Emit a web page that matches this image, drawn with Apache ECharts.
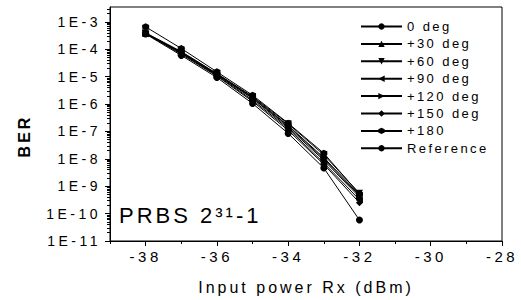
<!DOCTYPE html>
<html>
<head>
<meta charset="utf-8">
<script src="https://cdn.jsdelivr.net/npm/echarts@6/dist/echarts.min.js"></script>
<style>
html, body { margin: 0; padding: 0; background: #fff; }
#chart { width: 521px; height: 300px; }
/* the original export has widely spaced letters */
#chart svg text { letter-spacing: 3px; }
#chart svg text[style*="13px"] { letter-spacing: 2.4px; }
#chart svg text[style*="14px"], #chart svg text[style*="15px"] { letter-spacing: 3.5px; }
</style>
</head>
<body>
<div id="chart"></div>
<script>
// input power (dBm)
var power = [-38, -37, -36, -35, -34, -33, -32];

// BER per phase
var ber_0   = [3.8e-4, 7.9e-5, 1.26e-5, 1.8e-6, 1.66e-7, 1.1e-8, 5.0e-10];
var ber_30  = [3.8e-4, 7.4e-5, 1.17e-5, 1.6e-6, 1.4e-7, 8.9e-9, 4.0e-10];
var ber_60  = [4.0e-4, 8.3e-5, 1.3e-5, 1.9e-6, 1.9e-7, 1.4e-8, 5.5e-10];
var ber_90  = [3.7e-4, 7.1e-5, 1.1e-5, 1.4e-6, 1.26e-7, 7.1e-9, 3.2e-10];
var ber_120 = [3.9e-4, 7.6e-5, 1.2e-5, 1.66e-6, 1.58e-7, 1.0e-8, 4.5e-10];
var ber_150 = [3.8e-4, 6.6e-5, 1.05e-5, 1.26e-6, 1.1e-7, 6.3e-9, 2.5e-10];
var ber_180 = [6.6e-4, 1.07e-4, 1.5e-5, 2.1e-6, 2.0e-7, 1.6e-8, 5.2e-10];
var ber_ref = [3.6e-4, 6.0e-5, 9.3e-6, 1.05e-6, 8.5e-8, 4.6e-9, 5.8e-11];

var names = ['0 deg', '+30 deg', '+60 deg', '+90 deg', '+120 deg', '+150 deg', '+180', 'Reference'];
var values = [ber_0, ber_30, ber_60, ber_90, ber_120, ber_150, ber_180, ber_ref];

var hexagon = 'path://M0,-1L0.866,-0.5L0.866,0.5L0,1L-0.866,0.5L-0.866,-0.5Z';
var symbols = ['circle', 'triangle', 'triangle', 'triangle', 'triangle', 'diamond', hexagon, 'circle'];
var rotates = [0, 0, 180, 90, -90, 0, 0, 0];

var xMajor = [-38, -36, -34, -32, -30, -28];
var xMinor = [-39, -37, -35, -33, -31, -29];
var yMajor = [1e-11, 1e-10, 1e-9, 1e-8, 1e-7, 1e-6, 1e-5, 1e-4, 1e-3];

var yMinor = [];
for (var e = -11; e <= -3; e++) {
    for (var k = 2; k <= 9; k++) {
        var v = k * Math.pow(10, e);
        if (v < 3.5e-3) yMinor.push(v);
    }
}

var font = "'Liberation Sans', Arial, sans-serif";

var series = [];
for (var i = 0; i < names.length; i++) {
    series.push({
        name: names[i],
        type: 'line',
        xAxisIndex: 0,
        yAxisIndex: 0,
        symbol: symbols[i],
        symbolRotate: rotates[i],
        symbolSize: 7,
        lineStyle: { color: '#000', width: 1 },
        itemStyle: { color: '#000' },
        data: power.map(function (p, j) { return [p, values[i][j]]; })
    });
}

var myChart = echarts.init(document.getElementById('chart'), null, { renderer: 'svg' });

var option = {
    animation: false,
    grid: {
        left: 110, right: 19, top: 7, bottom: 59,
        show: true, borderColor: '#000', borderWidth: 1,
        outerBoundsMode: 'none'
    },
    legend: {
        orient: 'vertical',
        left: 355,
        top: 15,
        itemWidth: 41,
        itemHeight: 8,
        itemGap: 4.4,
        data: names,
        textStyle: { color: '#000', fontSize: 13, fontFamily: font }
    },
    xAxis: [{
        type: 'value',
        min: -39,
        max: -28,
        interval: 1,
        name: 'Input power Rx (dBm)',
        nameLocation: 'middle',
        nameGap: 38,
        nameTextStyle: { color: '#000', fontSize: 16, fontFamily: font },
        axisLine: { lineStyle: { color: '#000', width: 1 } },
        axisTick: { customValues: xMajor, length: 5, lineStyle: { color: '#000' } },
        axisLabel: { customValues: xMajor, color: '#000', fontSize: 15, fontFamily: font, margin: 8 },
        splitLine: { show: false }
    }, {
        type: 'value',
        position: 'bottom',
        min: -39,
        max: -28,
        interval: 1,
        axisLine: { show: false },
        axisTick: { customValues: xMinor, length: 3, lineStyle: { color: '#000' } },
        axisLabel: { show: false },
        splitLine: { show: false }
    }],
    yAxis: [{
        type: 'log',
        min: 0.999e-11,
        max: 3.5e-3,
        axisLine: { show: true, lineStyle: { color: '#000', width: 1 } },
        axisTick: { show: true, customValues: yMajor, length: 5, lineStyle: { color: '#000' } },
        axisLabel: {
            customValues: yMajor,
            color: '#000', fontSize: 14, fontFamily: font, margin: 9,
            formatter: function (v) { return '1E' + Math.round(Math.log10(v)); }
        },
        splitLine: { show: false }
    }, {
        type: 'log',
        position: 'left',
        min: 0.999e-11,
        max: 3.5e-3,
        axisLine: { show: false },
        axisTick: { show: true, customValues: yMinor, length: 3, lineStyle: { color: '#000' } },
        axisLabel: { show: false },
        splitLine: { show: false }
    }],
    graphic: [{
        type: 'text',
        x: 24,
        y: 136,
        rotation: Math.PI / 2,
        style: {
            text: 'BER', fill: '#000', font: "bold 16px " + font,
            align: 'center', verticalAlign: 'middle'
        }
    }, {
        type: 'text',
        x: 119,
        y: 215,
        style: {
            text: 'PRBS 2³¹-1', fill: '#000', font: "22px " + font,
            align: 'left', verticalAlign: 'middle'
        }
    }],
    series: series
};
myChart.setOption(option);
</script>
</body>
</html>
